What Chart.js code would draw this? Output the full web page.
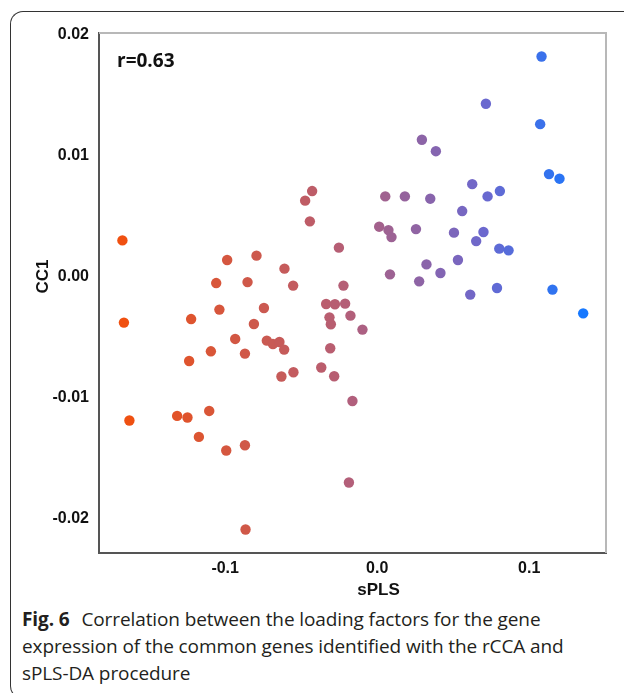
<!DOCTYPE html>
<html>
<head>
<meta charset="utf-8">
<script src="https://cdn.jsdelivr.net/npm/chart.js@4/dist/chart.umd.min.js"></script>
<style>
  html, body { margin: 0; padding: 0; background: #fff; }
  body { width: 624px; height: 693px; position: relative; overflow: hidden; }
  .frame {
    position: absolute; left: 10px; top: 11px; width: 700px; height: 686px;
    border-left: 1px solid #333; border-top: 1px solid #333; border-bottom: 1px solid #333;
    border-radius: 13px 0 0 13px;
  }
  .plot { position: absolute; left: 0; top: 0; width: 624px; height: 601px; }
  .caption {
    position: absolute; left: 22px; top: 606px; width: 600px; white-space: nowrap;
    font-family: "Open Sans", "Noto Sans", sans-serif; font-size: 19px; line-height: 27px;
    letter-spacing: -0.1px; color: #231f20;
  }
  .caption b { font-weight: 700; margin-right: 7px; }
</style>
</head>
<body>
<div class="frame"></div>
<div class="plot"><canvas id="chart" width="624" height="601"></canvas></div>
<div class="caption"><b>Fig. 6</b> Correlation between the loading factors for the gene<br>expression of the common genes identified with the rCCA and<br>sPLS-DA procedure</div>
<script>
// loadings, one entry per gene
var splsLoadings = [
  -0.1676, -0.0987, -0.0794, -0.1059, -0.0853, -0.0610, -0.0553, -0.0428, -0.0474, -0.0443,
   0.1081,  0.0715,  0.1072,  0.0294,  0.0386,  0.1130,  0.1199,  0.0625,  0.0726,  0.0807,
   0.0053,  0.0182,  0.0349,  0.0559,  0.0013,  0.0074,  0.0094,  0.0255,  0.0505,  0.0699,
   0.0651, -0.0252,  0.0803,  0.0864,  0.0324,  0.0531,  0.0084,  0.0416,  0.0276, -0.0222,
   0.0788,  0.1153,  0.0612,  0.1355, -0.0336, -0.0278, -0.0211, -0.0314, -0.0305, -0.0176,
  -0.0097, -0.0309, -0.0368, -0.0283, -0.0163, -0.0186, -0.1666, -0.1224, -0.1038, -0.0745,
  -0.0811, -0.0934, -0.0726, -0.0686, -0.0643, -0.0612, -0.1094, -0.0870, -0.1237, -0.0551,
  -0.0630, -0.1630, -0.1316, -0.1248, -0.1105, -0.1173, -0.0993, -0.0870, -0.0866
];
var cc1Loadings = [
   0.00299,  0.00137,  0.00173, -0.00053, -0.00045,  0.00066, -0.00074,  0.00706,  0.00627,  0.00456,
   0.01816,  0.01426,  0.01258,  0.01129,  0.01035,  0.00846,  0.00808,  0.00763,  0.00662,  0.00706,
   0.00662,  0.00662,  0.00643,  0.00541,  0.00412,  0.00384,  0.00326,  0.00392,  0.00363,  0.00368,
   0.00293,  0.00239,  0.00231,  0.00217,  0.00101,  0.00137,  0.00019,  0.00030, -0.00039, -0.00074,
  -0.00094, -0.00107, -0.00148, -0.00303, -0.00226, -0.00228, -0.00223, -0.00336, -0.00393, -0.00322,
  -0.00437, -0.00591, -0.00750, -0.00822, -0.01026, -0.01698, -0.00379, -0.00350, -0.00272, -0.00259,
  -0.00391, -0.00514, -0.00528, -0.00556, -0.00539, -0.00602, -0.00616, -0.00635, -0.00696, -0.00789,
  -0.00824, -0.01187, -0.01149, -0.01162, -0.01108, -0.01322, -0.01434, -0.01391, -0.02086
];
var xTicks = [-0.1, 0.0, 0.1];
var yTicks = [-0.02, -0.01, 0.00, 0.01, 0.02];
var correlationLabel = 'r=0.63';

// colour ramp along sPLS: orange -> mauve -> violet -> blue
var rampStops = [
  { at: -0.165, rgb: [240, 80, 16] },
  { at: -0.020, rgb: [180, 95, 120] },
  { at: 0.070, rgb: [108, 104, 206] },
  { at: 0.135, rgb: [22, 120, 255] }
];

function rampColor(v) {
  if (v <= rampStops[0].at) return 'rgb(' + rampStops[0].rgb.join(',') + ')';
  for (var i = 1; i < rampStops.length; i++) {
    var a = rampStops[i - 1], b = rampStops[i];
    if (v <= b.at) {
      var t = (v - a.at) / (b.at - a.at);
      var c = a.rgb.map(function (ch, k) { return Math.round(ch + (b.rgb[k] - ch) * t); });
      return 'rgb(' + c.join(',') + ')';
    }
  }
  return 'rgb(' + rampStops[rampStops.length - 1].rgb.join(',') + ')';
}

var points = splsLoadings.map(function (x, i) { return { x: x, y: cc1Loadings[i] }; });

// light frame on top/right + the r label
var framePlugin = {
  id: 'frame',
  beforeDatasetsDraw: function (chart) {
    var a = chart.chartArea, ctx = chart.ctx;
    ctx.save();
    ctx.strokeStyle = '#b8b8b8';
    ctx.lineWidth = 2;
    ctx.beginPath();
    ctx.moveTo(a.left, a.top);
    ctx.lineTo(a.right, a.top);
    ctx.lineTo(a.right, a.bottom);
    ctx.stroke();
    ctx.fillStyle = '#111';
    ctx.font = 'bold 19px "Open Sans", sans-serif';
    ctx.textBaseline = 'middle';
    ctx.fillText(correlationLabel, a.left + 18, 62);
    ctx.restore();
  }
};

new Chart(document.getElementById('chart'), {
  type: 'scatter',
  data: {
    datasets: [{
      data: points,
      pointRadius: 5.2,
      pointHoverRadius: 5.2,
      borderWidth: 0,
      backgroundColor: function (ctx) {
        var p = ctx.raw;
        return p ? rampColor(p.x) : '#888';
      }
    }]
  },
  options: {
    responsive: false,
    animation: false,
    layout: { padding: { left: 0, top: 33, right: 18, bottom: 0 } },
    plugins: { legend: { display: false }, tooltip: { enabled: false } },
    scales: {
      x: {
        type: 'linear',
        min: -0.183,
        max: 0.1505,
        afterBuildTicks: function (s) { s.ticks = xTicks.map(function (v) { return { value: v }; }); },
        afterFit: function (s) { s.height = 48; },
        grid: { display: false, drawTicks: false },
        border: { display: true, color: '#555', width: 2 },
        ticks: {
          padding: 6,
          color: '#111',
          font: { family: '"Liberation Sans", Arial, sans-serif', size: 16, weight: 'bold' },
          callback: function (v) { return v.toFixed(1); }
        },
        title: {
          display: true,
          text: '           sPLS',
          color: '#111',
          padding: { top: 0, bottom: 0 },
          font: { family: '"Liberation Sans", Arial, sans-serif', size: 17, weight: 'bold' }
        }
      },
      y: {
        type: 'linear',
        min: -0.0228,
        max: 0.0201,
        afterBuildTicks: function (s) { s.ticks = yTicks.map(function (v) { return { value: v }; }); },
        afterFit: function (s) { s.width = 99; },
        grid: { display: false, drawTicks: false },
        border: { display: true, color: '#555', width: 2 },
        ticks: {
          padding: 10,
          color: '#111',
          font: { family: '"Liberation Sans", Arial, sans-serif', size: 16, weight: 'bold' },
          callback: function (v) { return v.toFixed(2); }
        },
        title: {
          display: true,
          text: '       CC1',
          color: '#111',
          padding: { top: 33, bottom: 0 },
          font: { family: '"Liberation Sans", Arial, sans-serif', size: 17, weight: 'bold' }
        }
      }
    }
  },
  plugins: [framePlugin]
});
</script>
</body>
</html>
